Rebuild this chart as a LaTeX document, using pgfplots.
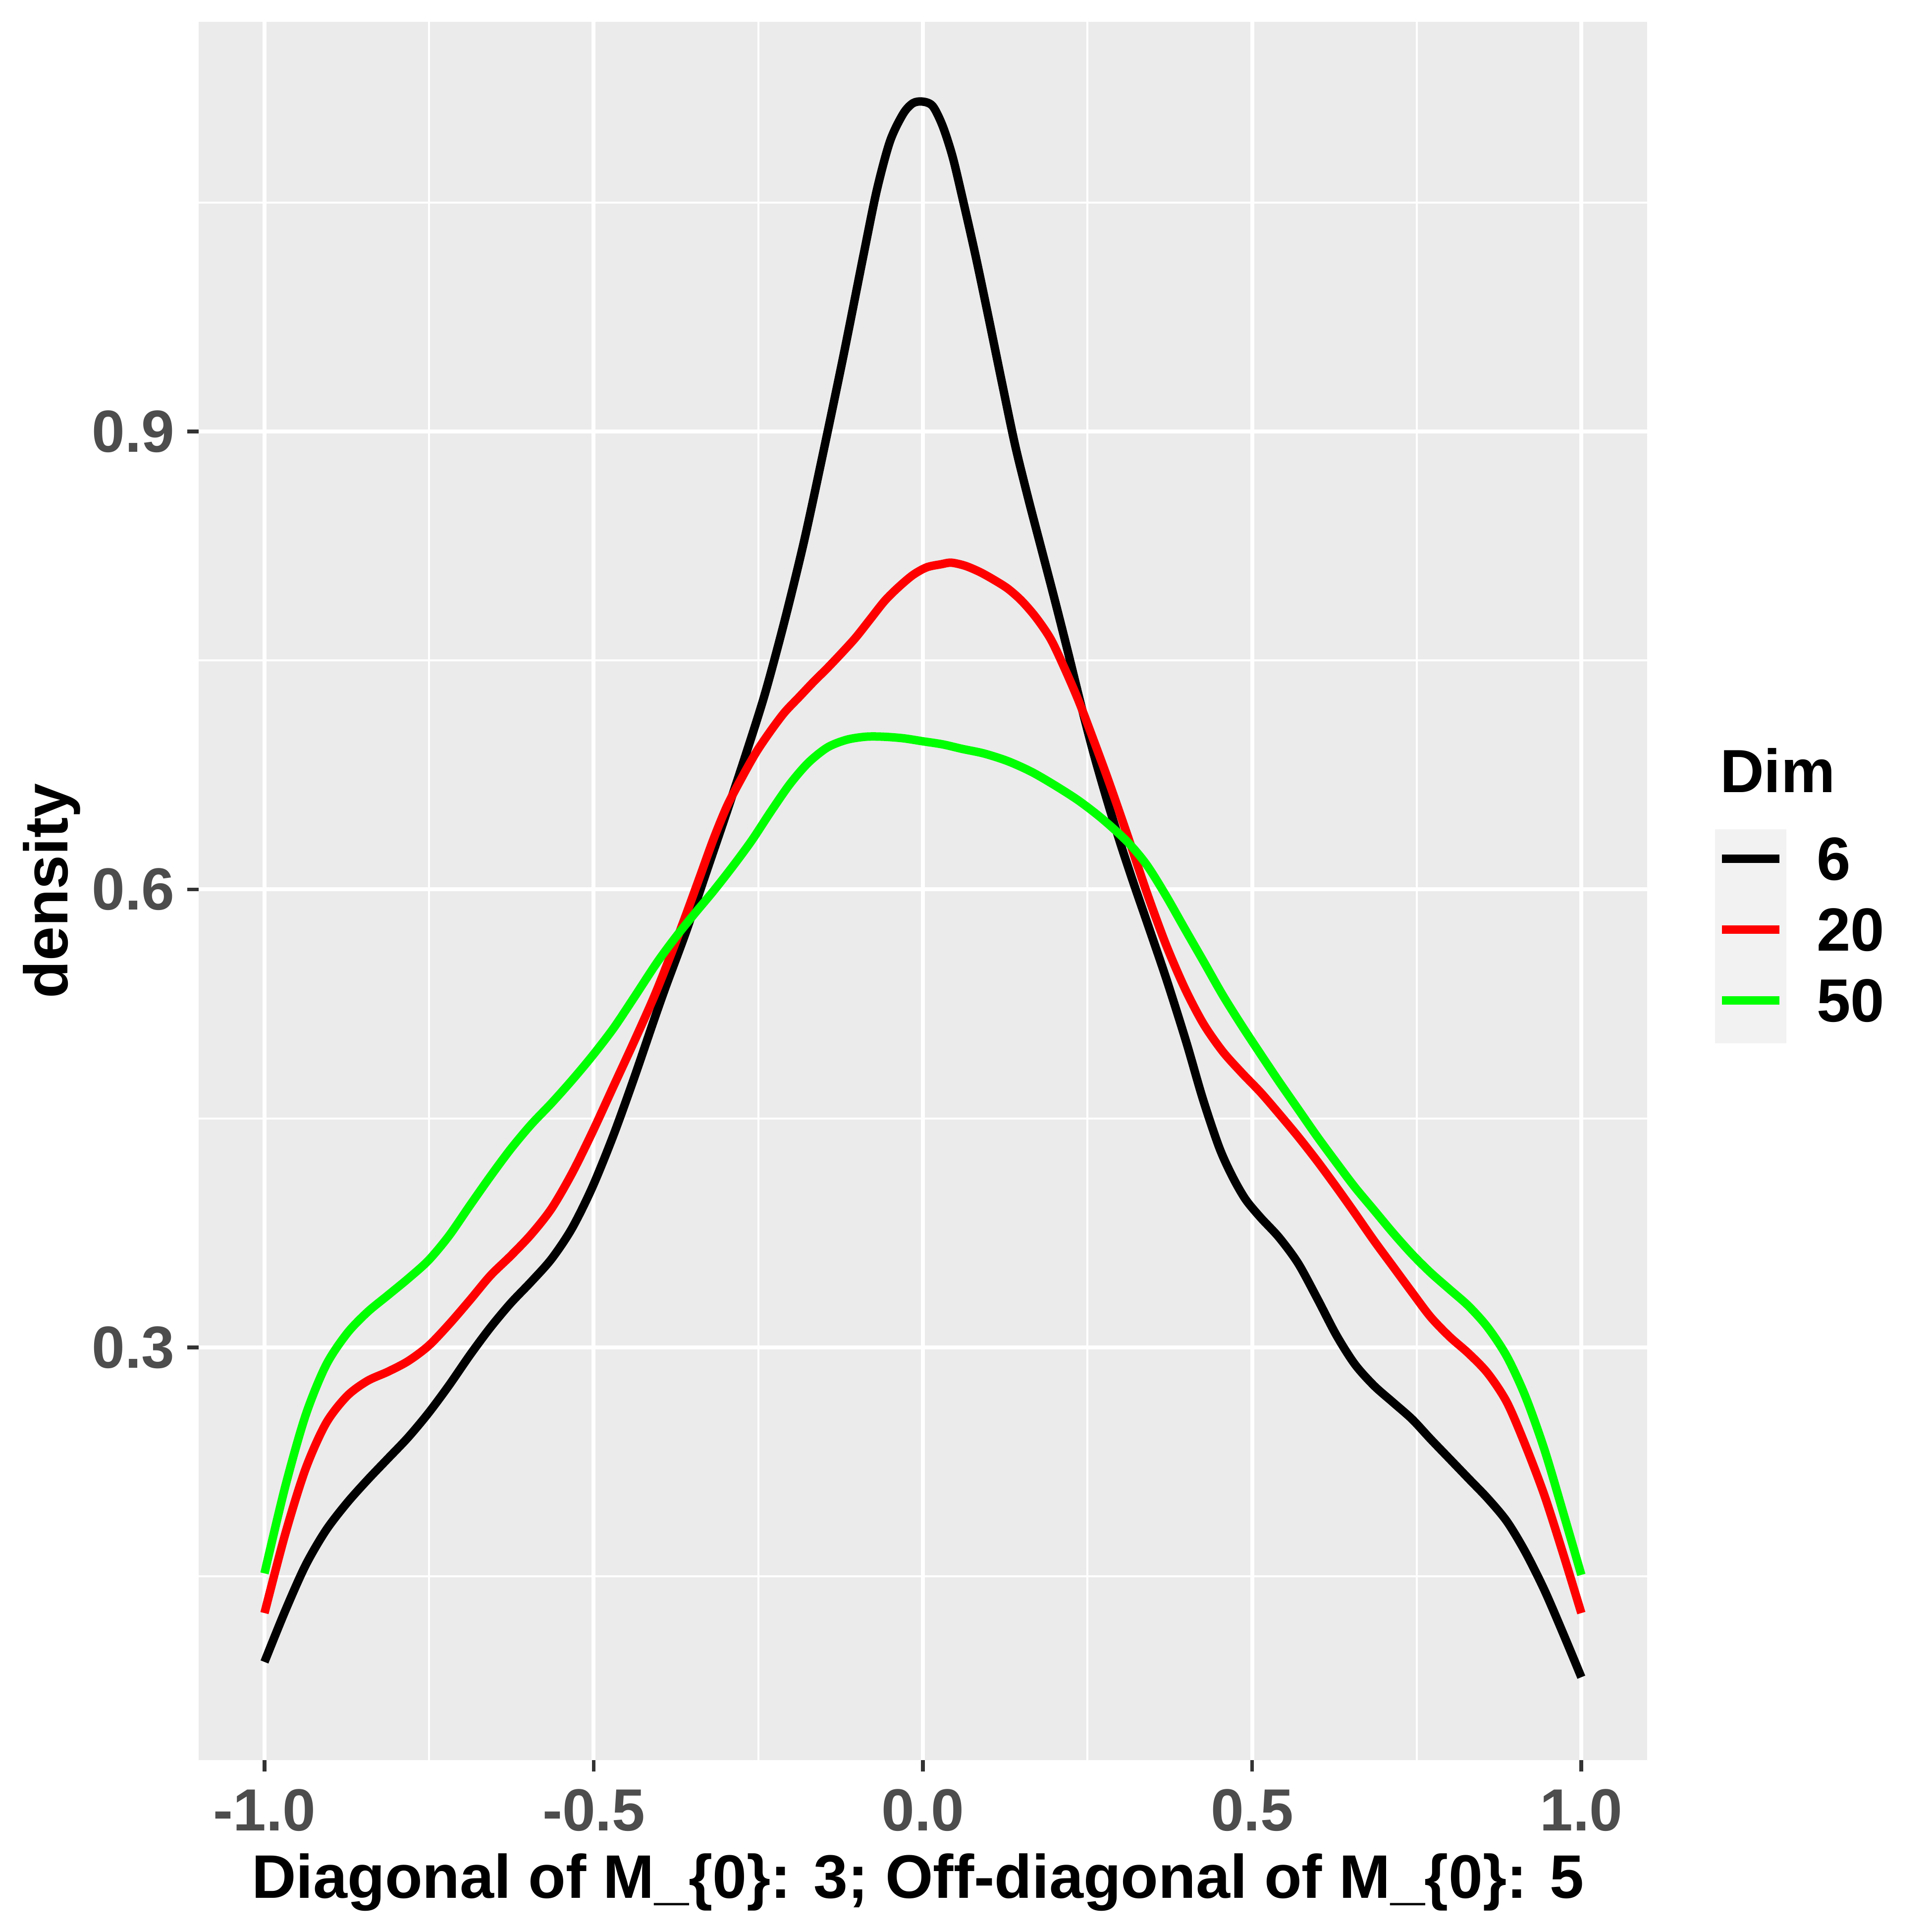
\documentclass[border=0pt]{standalone}
\usepackage{fontspec}
\setmainfont{Liberation Sans}
\usepackage{pgfplots}
\pgfplotsset{compat=1.18}
\definecolor{panelbg}{HTML}{EBEBEB}
\definecolor{keybg}{HTML}{F2F2F2}
\definecolor{ticklab}{HTML}{4D4D4D}
\definecolor{tickcol}{HTML}{333333}
\definecolor{ggreen}{HTML}{00FF00}
\definecolor{gred}{HTML}{FF0000}
\pgfplotstableread{
x y
-1.000 0.094
-0.969 0.127
-0.938 0.157
-0.907 0.180
-0.875 0.198
-0.844 0.213
-0.813 0.227
-0.782 0.241
-0.751 0.257
-0.720 0.275
-0.688 0.295
-0.657 0.313
-0.626 0.329
-0.595 0.343
-0.564 0.358
-0.533 0.378
-0.502 0.405
-0.470 0.439
-0.439 0.476
-0.408 0.515
-0.390 0.537
-0.360 0.572
-0.330 0.610
-0.300 0.648
-0.270 0.687
-0.240 0.728
-0.210 0.776
-0.180 0.829
-0.150 0.889
-0.120 0.951
-0.090 1.016
-0.070 1.058
-0.050 1.090
-0.030 1.108
-0.015 1.115
0.000 1.116
0.015 1.113
0.030 1.100
0.045 1.080
0.060 1.053
0.080 1.015
0.100 0.974
0.120 0.932
0.140 0.891
0.160 0.856
0.180 0.823
0.200 0.790
0.220 0.756
0.240 0.721
0.260 0.688
0.280 0.658
0.300 0.630
0.320 0.604
0.340 0.579
0.370 0.541
0.400 0.500
0.425 0.463
0.450 0.431
0.470 0.412
0.490 0.397
0.513 0.385
0.541 0.372
0.570 0.355
0.599 0.332
0.628 0.308
0.656 0.289
0.685 0.275
0.714 0.264
0.743 0.253
0.771 0.240
0.800 0.227
0.829 0.214
0.858 0.201
0.887 0.186
0.915 0.166
0.944 0.141
0.973 0.112
1.000 0.084
}\dimsix
\pgfplotstableread{
x y
-1.000 0.126
-0.969 0.177
-0.938 0.220
-0.907 0.250
-0.875 0.268
-0.844 0.278
-0.813 0.284
-0.782 0.291
-0.751 0.301
-0.720 0.315
-0.688 0.331
-0.657 0.347
-0.626 0.360
-0.595 0.374
-0.564 0.391
-0.533 0.414
-0.502 0.441
-0.470 0.471
-0.439 0.500
-0.408 0.530
-0.383 0.557
-0.361 0.582
-0.339 0.608
-0.318 0.633
-0.297 0.655
-0.274 0.674
-0.253 0.690
-0.231 0.704
-0.210 0.716
-0.188 0.726
-0.166 0.736
-0.145 0.745
-0.123 0.755
-0.102 0.765
-0.080 0.777
-0.058 0.789
-0.037 0.798
-0.015 0.806
0.006 0.811
0.028 0.813
0.043 0.814
0.064 0.812
0.086 0.808
0.107 0.803
0.129 0.797
0.150 0.789
0.172 0.778
0.194 0.764
0.215 0.745
0.237 0.723
0.259 0.698
0.282 0.671
0.311 0.635
0.340 0.598
0.369 0.564
0.398 0.535
0.426 0.512
0.455 0.494
0.484 0.480
0.513 0.467
0.541 0.453
0.570 0.438
0.599 0.422
0.628 0.405
0.656 0.388
0.685 0.370
0.714 0.353
0.743 0.336
0.771 0.320
0.800 0.307
0.829 0.296
0.858 0.283
0.887 0.264
0.915 0.236
0.944 0.203
0.973 0.164
1.000 0.126
}\dimtwenty
\pgfplotstableread{
x y
-1.000 0.152
-0.969 0.208
-0.938 0.255
-0.907 0.288
-0.875 0.309
-0.844 0.323
-0.813 0.334
-0.782 0.345
-0.751 0.357
-0.720 0.373
-0.688 0.393
-0.657 0.412
-0.626 0.430
-0.595 0.446
-0.564 0.460
-0.533 0.475
-0.502 0.491
-0.470 0.509
-0.439 0.529
-0.404 0.552
-0.375 0.569
-0.347 0.584
-0.318 0.599
-0.289 0.615
-0.260 0.632
-0.231 0.651
-0.202 0.669
-0.174 0.683
-0.145 0.693
-0.116 0.698
-0.087 0.700
-0.060 0.700
-0.030 0.699
0.000 0.697
0.030 0.695
0.060 0.692
0.093 0.689
0.129 0.684
0.165 0.677
0.201 0.668
0.237 0.658
0.273 0.646
0.311 0.631
0.340 0.616
0.369 0.596
0.398 0.574
0.426 0.553
0.455 0.531
0.484 0.511
0.513 0.492
0.541 0.474
0.570 0.456
0.599 0.438
0.628 0.421
0.656 0.405
0.685 0.390
0.714 0.375
0.743 0.361
0.771 0.349
0.800 0.338
0.829 0.327
0.858 0.313
0.887 0.294
0.915 0.268
0.944 0.233
0.973 0.191
1.000 0.151
}\dimfifty
\begin{document}
\begin{tikzpicture}
\path[use as bounding box] (-40.1pt,-34.7pt) rectangle (349.9pt,355.3pt);
% legend key background (ggplot legend.key)
\fill[keybg] (306.1pt,144.7pt) rectangle (320.5pt,187.9pt);
\begin{axis}[
  at={(0pt,0pt)}, anchor=south west,
  width=292.4pt, height=350.9pt, scale only axis,
  xmin=-1.1, xmax=1.1, ymin=0.0297, ymax=1.1683,
  axis background/.style={fill=panelbg},
  axis line style={draw=none},
  xtick={-1,-0.5,0,0.5,1},
  xticklabels={-1.0,-0.5,0.0,0.5,1.0},
  ytick={0.3,0.6,0.9},
  yticklabels={0.3,0.6,0.9},
  minor xtick={-0.75,-0.25,0.25,0.75},
  minor ytick={0.15,0.45,0.75,1.05},
  grid=both,
  major grid style={white, line width=0.8pt},
  minor grid style={white, line width=0.4pt},
  tick align=outside,
  major tick length=2.3pt,
  minor tick length=0pt,
  xtick pos=bottom, ytick pos=left,
  tick style={tickcol, line width=0.75pt},
  ticklabel style={font=\bfseries\fontsize{12}{14}\selectfont, text=ticklab},
  yticklabel style={xshift=1pt},
  xlabel={Diagonal of M\_\{0\}: 3; Off-diagonal of M\_\{0\}: 5},
  ylabel={density},
  every axis x label/.style={at={(axis description cs:0.4966,-0.0795)}, anchor=base, font=\bfseries\fontsize{12.4}{15}\selectfont},
  every axis y label/.style={at={(axis description cs:-0.0903,0.5)}, rotate=90, anchor=base, font=\bfseries\fontsize{12.4}{15}\selectfont},
  legend style={at={(axis description cs:1.04685,0.53904)}, anchor=north west, draw=none, fill=none,
    inner sep=0pt, inner xsep=0pt, inner ysep=0pt, outer sep=0pt, row sep=-0.1pt, column sep=6.1pt,
    font=\bfseries\fontsize{12.3}{14}\selectfont,
    nodes={inner sep=0pt, outer sep=0pt, text depth=0pt}},
  legend cell align=left,
  legend image code/.code={
    \path[draw=none, fill=none] (0pt,-7.2pt) rectangle (14.4pt,7.2pt);
    \draw[#1, line width=1.7pt, line cap=butt, overlay] (1.4pt,0pt) -- (13pt,0pt);
  },
]
\addplot[black, line width=1.7pt, line join=round, smooth, tension=0.5] table[x=x,y=y] {\dimsix};
\addlegendentry{6}
\addplot[gred, line width=1.7pt, line join=round, smooth, tension=0.5] table[x=x,y=y] {\dimtwenty};
\addlegendentry{20}
\addplot[ggreen, line width=1.7pt, line join=round, smooth, tension=0.5] table[x=x,y=y] {\dimfifty};
\addlegendentry{50}
\end{axis}
\node[anchor=base west, inner sep=0pt, font=\bfseries\fontsize{12.3}{14}\selectfont] at (306.9pt,195.3pt) {Dim};
\end{tikzpicture}
\end{document}
